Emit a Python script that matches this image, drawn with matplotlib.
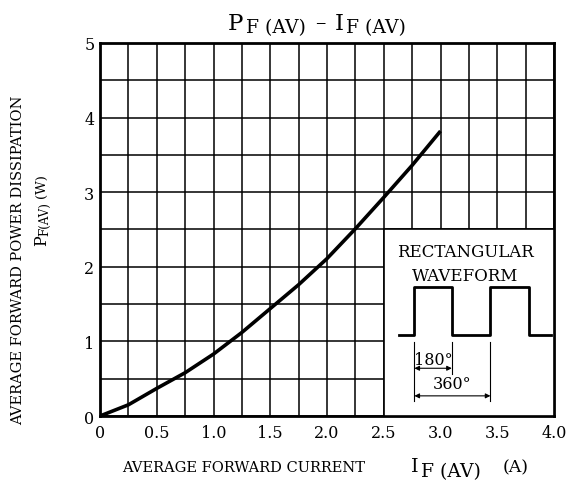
import matplotlib
matplotlib.use("Agg")
import matplotlib.pyplot as plt
import numpy as np
from matplotlib.patches import Rectangle

# Data
current = [0.0, 0.25, 0.5, 0.75, 1.0, 1.25, 1.5, 1.75, 2.0, 2.25, 2.5, 2.75, 3.0]
power = [0.0, 0.15, 0.37, 0.58, 0.83, 1.12, 1.44, 1.76, 2.11, 2.51, 2.93, 3.36, 3.82]
x_ticks = [0, 0.5, 1.0, 1.5, 2.0, 2.5, 3.0, 3.5, 4.0]
x_tick_labels = ["0", "0.5", "1.0", "1.5", "2.0", "2.5", "3.0", "3.5", "4.0"]
y_ticks = [0, 1, 2, 3, 4, 5]
y_tick_labels = ["0", "1", "2", "3", "4", "5"]

# Inset waveform (data coordinates)
wave_x = [2.63, 2.77, 2.77, 3.10, 3.10, 3.44, 3.44, 3.78, 3.78, 3.97]
wave_y = [1.08, 1.08, 1.73, 1.73, 1.08, 1.08, 1.73, 1.73, 1.08, 1.08]

plt.rcParams['font.family'] = ['DejaVu Serif']

W, H = 569, 485
fig = plt.figure(figsize=(W/100, H/100), dpi=100)
ax = fig.add_axes([100/W, 1-417/H, 454/W, 373/H])


def fx(px):
    return px / W


def fy(py):
    return 1 - py / H


ax.set_xlim(0, 4.0)
ax.set_ylim(0, 5)
ax.set_xticks(np.arange(0, 4.01, 0.25), minor=True)
ax.set_yticks(np.arange(0, 5.01, 0.5), minor=True)
ax.grid(which='both', color='black', linewidth=1.1)
ax.set_axisbelow(True)
ax.set_xticks(x_ticks)
ax.set_xticklabels(x_tick_labels)
ax.set_yticks(y_ticks)
ax.set_yticklabels(y_tick_labels)
ax.tick_params(which='both', length=0, labelsize=11.5)
ax.tick_params(axis='x', pad=6)
ax.tick_params(axis='y', pad=4)
for s in ax.spines.values():
    s.set_linewidth(2)

ax.plot(current, power, color='black', linewidth=2.6, solid_capstyle='butt', zorder=3)

# Inset box
ax.add_patch(Rectangle((2.5, 0), 1.5, 2.5, facecolor='white', edgecolor='black',
                       linewidth=1.2, zorder=4))
ax.plot(wave_x, wave_y, color='black', linewidth=2, zorder=5)
ax.text(3.22, 2.2, "RECTANGULAR", ha='center', va='center', fontsize=12, zorder=6)
ax.text(3.22, 1.89, "WAVEFORM", ha='center', va='center', fontsize=12, zorder=6)
ax.plot([2.77, 2.77], [0.2, 0.99], color='black', linewidth=0.8, zorder=5)
ax.plot([3.10, 3.10], [0.56, 0.99], color='black', linewidth=0.8, zorder=5)
ax.plot([3.44, 3.44], [0.2, 0.99], color='black', linewidth=0.8, zorder=5)
ax.annotate("", xy=(3.10, 0.64), xytext=(2.77, 0.64),
            arrowprops=dict(arrowstyle='<|-|>', color='black', lw=0.8,
                            mutation_scale=7, shrinkA=0, shrinkB=0), zorder=5)
ax.annotate("", xy=(3.44, 0.27), xytext=(2.77, 0.27),
            arrowprops=dict(arrowstyle='<|-|>', color='black', lw=0.8,
                            mutation_scale=7, shrinkA=0, shrinkB=0), zorder=5)
ax.text(2.935, 0.76, "180°", ha='center', va='center', fontsize=11.5, zorder=6)
ax.text(3.10, 0.44, "360°", ha='center', va='center', fontsize=11.5, zorder=6)

# Title: P_F(AV) - I_F(AV)
fig.text(fx(228), fy(30), "P", fontsize=16.5, ha='left', va='baseline')
fig.text(fx(246), fy(33), "F (AV)", fontsize=13.5, ha='left', va='baseline')
fig.text(fx(320), fy(29), "–", fontsize=15, ha='center', va='baseline')
fig.text(fx(335), fy(30), "I", fontsize=16.5, ha='left', va='baseline')
fig.text(fx(346), fy(33), "F (AV)", fontsize=13.5, ha='left', va='baseline')

# X label
fig.text(fx(122), fy(472), "AVERAGE FORWARD CURRENT", fontsize=10.5, ha='left', va='baseline')
fig.text(fx(411), fy(472), "I", fontsize=14, ha='left', va='baseline')
fig.text(fx(421), fy(477), "F (AV)", fontsize=13.5, ha='left', va='baseline')
fig.text(fx(503), fy(472), "(A)", fontsize=12.5, ha='left', va='baseline')

# Y label
fig.text(fx(18), fy(260), "AVERAGE FORWARD POWER DISSIPATION", fontsize=10.5,
         rotation=90, ha='center', va='center')
fig.text(fx(42), fy(241), "P", fontsize=11.5, rotation=90, ha='center', va='center')
fig.text(fx(45), fy(219), "F(AV)", fontsize=8.5, rotation=90, ha='center', va='center')
fig.text(fx(41), fy(186), "(W)", fontsize=9.5, rotation=90, ha='center', va='center')

fig.savefig("out.png", dpi=100)
